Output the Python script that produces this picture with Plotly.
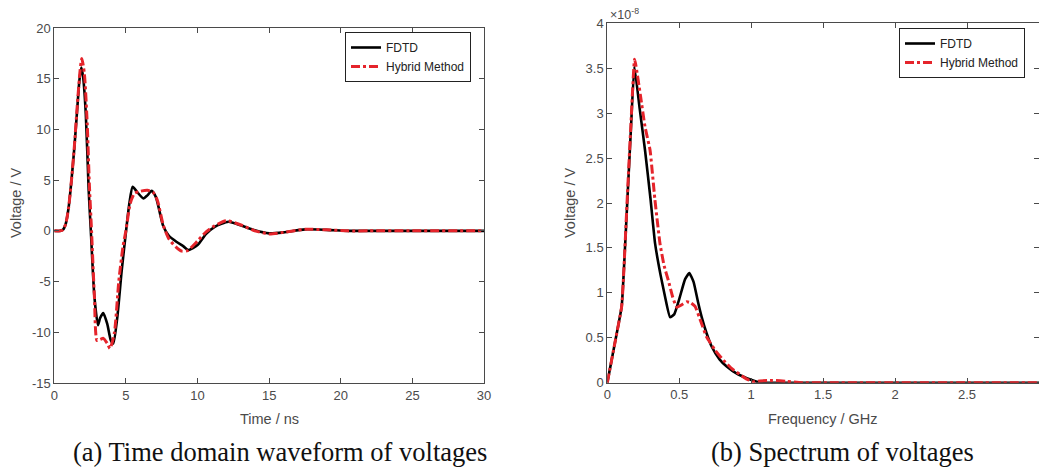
import plotly.graph_objects as go

# ---------------- data: (a) time domain ----------------
t_fdtd = [0, 0.4, 0.6, 0.8, 1.0, 1.2, 1.4, 1.6, 1.75, 1.88, 2.0, 2.2, 2.4, 2.55, 2.8, 3.05,
          3.2, 3.42, 3.7, 3.95, 4.12, 4.4, 4.7, 5.05, 5.25, 5.47, 5.8, 6.22, 6.5, 6.8, 7.1, 7.6,
          8.0, 8.55, 9.0, 9.36, 10.0, 10.6, 11.2, 12.15, 13.0, 14.0, 15.0, 16.0, 17.5,
          19.0, 20.5, 22, 25, 30]
v_fdtd = [0, 0.0, 0.1, 0.7, 2.3, 5.0, 8.2, 12.0, 14.8, 16.1, 15.3, 11.5, 4.0, 0.0, -6.5, -9.3,
          -8.6, -8.1, -9.2, -10.8, -11.1, -8.5, -4.0, 0.5, 2.8, 4.35, 3.8, 3.2, 3.5, 3.95, 3.3, 0.5,
          -0.5, -1.1, -1.5, -1.9, -1.4, -0.3, 0.4, 0.9, 0.55, 0.05, -0.25, -0.15, 0.15,
          0.1, 0.0, 0.0, 0.0, 0.0]

t_hyb = [0, 0.4, 0.6, 0.8, 1.0, 1.2, 1.4, 1.6, 1.8, 1.92, 2.1, 2.3, 2.45, 2.6, 2.8, 2.98,
         3.2, 3.42, 3.7, 3.89, 4.2, 4.5, 4.8, 5.0, 5.3, 5.6, 6.0, 6.5, 6.9, 7.2, 7.6,
         8.0, 8.5, 8.9, 9.3, 10.0, 10.6, 11.2, 12.0, 13.0, 14.0, 15.0, 16.0, 17.5,
         19.0, 20.5, 22, 25, 30]
v_hyb = [0, 0.0, 0.1, 0.7, 2.3, 5.0, 8.3, 12.3, 15.8, 17.0, 15.5, 10.5, 4.5, 0.0, -6.5, -10.8,
         -10.7, -10.6, -11.1, -11.6, -10.0, -5.0, -1.5, 0.0, 2.7, 3.7, 3.9, 4.0, 3.8, 3.0, 0.6,
         -0.8, -1.6, -2.0, -1.95, -1.0, -0.1, 0.5, 1.0, 0.6, 0.0, -0.3, -0.15, 0.15,
         0.1, 0.0, 0.0, 0.0, 0.0]

# ---------------- data: (b) spectrum (units of 1e-8 V) ----------------
f_fdtd = [0, 0.05, 0.1, 0.115, 0.14, 0.165, 0.188, 0.225, 0.262, 0.30, 0.332, 0.37, 0.401,
          0.436, 0.465, 0.50, 0.54, 0.57, 0.60, 0.63, 0.656, 0.69, 0.726, 0.78, 0.83,
          0.90, 0.97, 1.04, 1.1, 1.5, 2.0, 2.5, 3.0]
s_fdtd = [0, 0.42, 0.85, 1.25, 2.05, 2.85, 3.52, 3.05, 2.59, 2.05, 1.55, 1.2, 0.96,
          0.73, 0.76, 0.93, 1.15, 1.22, 1.12, 0.9, 0.73, 0.55, 0.40, 0.26, 0.18,
          0.10, 0.05, 0.01, 0.0, 0.0, 0.0, 0.0, 0.0]

f_hyb = [0, 0.05, 0.1, 0.115, 0.14, 0.165, 0.19, 0.23, 0.262, 0.297, 0.33, 0.366, 0.395,
         0.424, 0.455, 0.483, 0.52, 0.552, 0.58, 0.61, 0.65, 0.69, 0.75, 0.807, 0.87,
         0.923, 0.97, 1.015, 1.06, 1.15, 1.25, 1.35, 1.5, 2.0, 2.5, 3.0]
s_hyb = [0, 0.42, 0.85, 1.25, 2.1, 2.9, 3.6, 3.2, 2.85, 2.59, 2.05, 1.55, 1.3,
         1.14, 0.95, 0.84, 0.87, 0.90, 0.89, 0.85, 0.68, 0.51, 0.36, 0.25, 0.15,
         0.09, 0.04, 0.01, 0.02, 0.025, 0.015, 0.0, 0.0, 0.0, 0.0, 0.0]

tick_t = [0, 5, 10, 15, 20, 25, 30]
tick_v = [-15, -10, -5, 0, 5, 10, 15, 20]
tick_f = [0, 0.5, 1, 1.5, 2, 2.5, 3]
tick_s = [0, 0.5, 1, 1.5, 2, 2.5, 3, 3.5, 4]

BLACK = "#000000"
RED = "#e5242b"
W, H = 1039, 469
FONT = "Liberation Sans, Arial, sans-serif"
SERIF = "Liberation Serif, Times New Roman, serif"
AXC = "#4a4a4a"
DASH = "9px,3px,3px,3px"


def lbl(vals):
    return [("%g" % v) for v in vals]


fig = go.Figure()
fig.add_trace(go.Scatter(x=t_fdtd, y=v_fdtd, mode="lines", name="FDTD",
                         line=dict(color=BLACK, width=2.6, shape="spline", smoothing=0.6),
                         xaxis="x", yaxis="y", legend="legend"))
fig.add_trace(go.Scatter(x=t_hyb, y=v_hyb, mode="lines", name="Hybrid Method",
                         line=dict(color=RED, width=3, dash=DASH, shape="spline", smoothing=0.6),
                         xaxis="x", yaxis="y", legend="legend"))
fig.add_trace(go.Scatter(x=f_fdtd, y=s_fdtd, mode="lines", name="FDTD",
                         line=dict(color=BLACK, width=2.6, shape="spline", smoothing=0.4),
                         xaxis="x2", yaxis="y2", legend="legend2"))
fig.add_trace(go.Scatter(x=f_hyb, y=s_hyb, mode="lines", name="Hybrid Method",
                         line=dict(color=RED, width=3, dash=DASH, shape="spline", smoothing=0.4),
                         xaxis="x2", yaxis="y2", legend="legend2"))


def px(x):
    return x / W


def py(y):
    return 1 - y / H


axis_common = dict(showgrid=False, zeroline=False, showline=True, linecolor=AXC, linewidth=1,
                   mirror="ticks", ticks="inside", ticklen=5, tickcolor=AXC,
                   tickfont=dict(family=FONT, size=13, color=AXC))

legend_common = dict(xanchor="left", yanchor="top", bgcolor="white", bordercolor="#222",
                     borderwidth=1, font=dict(family=FONT, size=12, color="#222"),
                     itemwidth=30, tracegroupgap=0)

fig.update_layout(
    width=W, height=H,
    margin=dict(l=0, r=0, t=0, b=0, autoexpand=False),
    paper_bgcolor="white", plot_bgcolor="white",
    font=dict(family=FONT, size=12, color=AXC),
    xaxis=dict(domain=[px(54.3), px(484)], range=[0, 30], tickvals=tick_t, ticktext=lbl(tick_t),
               anchor="y", **axis_common),
    yaxis=dict(domain=[py(383), py(28)], range=[-15, 20], tickvals=tick_v, ticktext=lbl(tick_v),
               anchor="x", **axis_common),
    xaxis2=dict(domain=[px(607.3), 1.0], range=[0, 3], tickvals=tick_f, ticktext=lbl(tick_f),
                anchor="y2", **axis_common),
    yaxis2=dict(domain=[py(382.7), py(23.3)], range=[0, 4], tickvals=tick_s, ticktext=lbl(tick_s),
                anchor="x2", **axis_common),
    legend=dict(x=px(345), y=py(32), **legend_common),
    legend2=dict(x=px(899), y=py(28), **legend_common),
    showlegend=True,
)

ann = [
    dict(text="Time / ns", x=px(269), y=py(419), font=dict(size=14.5)),
    dict(text="Voltage / V", x=px(16), y=py(203), textangle=-90, font=dict(size=14.5)),
    dict(text="Frequency / GHz", x=px(823), y=py(419), font=dict(size=14.5)),
    dict(text="Voltage / V", x=px(570), y=py(203), textangle=-90, font=dict(size=14.5)),
    dict(text="×10<sup>-8</sup>", x=px(608), y=py(14), xanchor="left", font=dict(size=12.5)),
    dict(text="(a) Time domain waveform of voltages", x=px(280), y=py(452),
         font=dict(family=SERIF, size=26.5, color="#111")),
    dict(text="(b) Spectrum of voltages", x=px(842), y=py(452),
         font=dict(family=SERIF, size=26.5, color="#111")),
]
for a in ann:
    a.setdefault("xanchor", "center")
    fig.add_annotation(xref="paper", yref="paper", showarrow=False, yanchor="middle", **a)

fig.write_html("out.html", config={"displayModeBar": False},
               post_script="document.body.style.margin='0px';document.body.style.overflow='hidden';")
